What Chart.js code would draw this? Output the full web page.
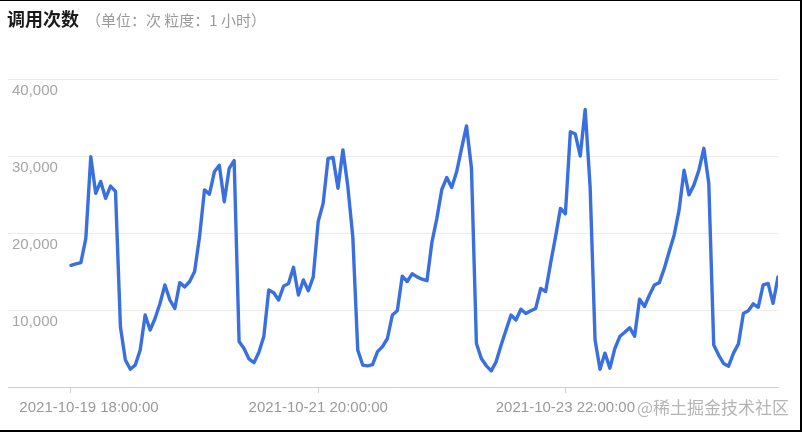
<!DOCTYPE html>
<html>
<head>
<meta charset="utf-8">
<script src="https://cdn.jsdelivr.net/npm/chart.js@4"></script>
<style>
  html, body { margin: 0; padding: 0; background: #fff; }
  #wrap { position: relative; width: 802px; height: 432px; overflow: hidden; background: #fff; }
  #frame { position: absolute; left: 0; top: 0; width: 802px; height: 432px; box-sizing: border-box;
           border-top: 1px solid #000; border-right: 2px solid #000; border-bottom: 2px solid #000; pointer-events: none; }
  #title { position: absolute; left: 7px; top: 9px; line-height: 18px; white-space: nowrap;
           font-family: "Noto Sans CJK SC", "Noto Sans", sans-serif; }
  #title .main { font-size: 18px; font-weight: bold; color: #1a1a1a; }
  #title .sub { font-size: 15px; color: #9a9a9a; margin-left: 7px; }
  #mark { position: absolute; left: 637px; top: 398px; font-size: 17px; line-height: 18px; color: #b4b4b4;
          font-family: "Noto Sans CJK SC", sans-serif; white-space: nowrap; }
  canvas { position: absolute; left: 0; top: 0; }
</style>
</head>
<body>
<div id="wrap">
  <canvas id="c" width="802" height="432"></canvas>
  <div id="title"><span class="main">调用次数</span><span class="sub">（单位：次 粒度：1 小时）</span></div>
  <div id="mark">@稀土掘金技术社区</div>
  <div id="frame"></div>
</div>
<script>
// Hourly call counts, starting 2021-10-19 18:00:00
const values = [
  15800, 16000, 16150, 19300, 29900, 25150, 26700, 24500, 26100, 25400,
  7800, 3500, 2300, 2850, 4800, 9350, 7400, 8900, 10850, 13250,
  11300, 10200, 13550, 13000, 13700, 15000, 19500, 25600, 25050, 27950,
  28800, 24050, 28400, 29400, 5900, 5000, 3650, 3150, 4500, 6550,
  12600, 12250, 11300, 13100, 13450, 15550, 11950, 13900, 12500, 14300,
  21500, 23850, 29700, 29800, 25800, 30800, 26000, 19500, 4800, 2850,
  2750, 2900, 4600, 5250, 6300, 9350, 9900, 14400, 13700, 14700,
  14300, 14000, 13800, 18800, 21900, 25650, 27200, 25900, 27950, 31000,
  33900, 28400, 5650, 3700, 2750, 2100, 3300, 5450, 7400, 9350,
  8700, 10100, 9550, 9900, 10200, 12800, 12400, 16050, 19500, 23200,
  22500, 33150, 32850, 30000, 36050, 26000, 6100, 2300, 4400, 2450,
  5000, 6550, 7100, 7700, 6600, 11400, 10450, 11950, 13250, 13550,
  15400, 17600, 19750, 23000, 28150, 24950, 26250, 28150, 31000, 26450,
  5450, 4150, 3050, 2700, 4400, 5600, 9550, 9900, 10800, 10350,
  13250, 13450, 10850, 14300
];
const tickIndex = [0, 50, 100];
const tickLabels = ['2021-10-19 18:00:00', '2021-10-21 20:00:00', '2021-10-23 22:00:00'];
const yTicks = [0, 10000, 20000, 30000, 40000];

const points = values.map((v, i) => ({ x: i, y: v }));

const shiftFirstLabel = {
  id: 'shiftFirstLabel',
  beforeDraw(chart) {
    const sx = chart.scales.x;
    const items = sx.getLabelItems();
    if (items && items.length) {
      items[0].options.translation[0] = sx.getPixelForValue(tickIndex[0]) + 18;
    }
  }
};

new Chart(document.getElementById('c'), {
  type: 'line',
  data: {
    datasets: [{
      data: points,
      borderColor: '#3a6fdf',
      borderWidth: 3.4,
      pointRadius: 0,
      pointHoverRadius: 0,
      tension: 0,
      fill: false,
      borderJoinStyle: 'round',
      borderCapStyle: 'round'
    }]
  },
  options: {
    responsive: false,
    animation: false,
    devicePixelRatio: 1,
    layout: { padding: { left: 0, right: 24, top: 79, bottom: 9 } },
    plugins: { legend: { display: false }, tooltip: { enabled: false } },
    scales: {
      x: {
        type: 'linear',
        min: -12.742,
        max: values.length - 1,
        afterBuildTicks: (s) => { s.ticks = tickIndex.map(v => ({ value: v })); },
        afterFit: (s) => { s.paddingLeft = 0; s.paddingRight = 0; },
        grid: { drawOnChartArea: false, drawTicks: true, tickLength: 6, color: '#cfcfcf', lineWidth: 1 },
        border: { display: true, color: '#cfcfcf', width: 1 },
        ticks: {
          autoSkip: false,
          maxRotation: 0,
          padding: 6,
          color: '#9a9a9a',
          font: { family: 'Liberation Sans, Arial, sans-serif', size: 15 },
          callback: (v) => { const k = tickIndex.indexOf(v); return k >= 0 ? tickLabels[k] : ''; }
        }
      },
      y: {
        min: yTicks[0],
        max: yTicks[yTicks.length - 1],
        afterBuildTicks: (s) => { s.ticks = yTicks.map(v => ({ value: v })); },
        afterFit: (s) => { s.paddingTop = 0; s.paddingBottom = 0; },
        grid: {
          drawTicks: false,
          color: (ctx) => (ctx.tick && ctx.tick.value === 0) ? 'rgba(0,0,0,0)' : '#ececec',
          lineWidth: 1
        },
        border: { display: false },
        ticks: {
          mirror: true,
          padding: 4,
          labelOffset: 12,
          color: '#a6a6a6',
          font: { family: 'Liberation Sans, Arial, sans-serif', size: 15 },
          callback: (v) => v === 0 ? '' : v.toLocaleString('en-US')
        }
      }
    }
  },
  plugins: [shiftFirstLabel]
});
</script>
</body>
</html>
